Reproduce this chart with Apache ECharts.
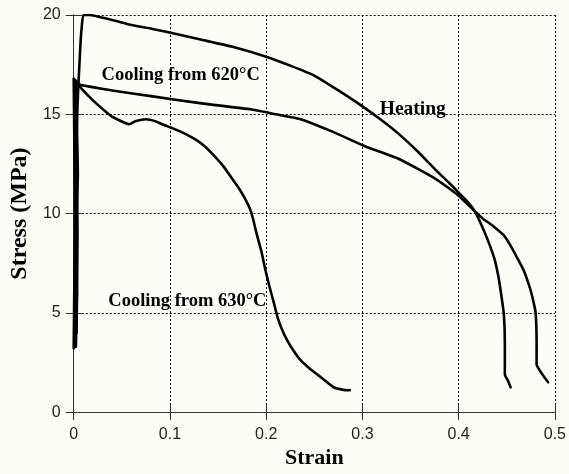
<!DOCTYPE html>
<html>
<head>
<meta charset="utf-8">
<script src="https://cdn.jsdelivr.net/npm/echarts@6/dist/echarts.min.js"></script>
<style>
  html, body { margin: 0; padding: 0; background: #fdfdf8; }
  #chart { width: 569px; height: 474px; }
</style>
</head>
<body>
<div id="chart"></div>
<script>
// Stress–strain curves: heating run and two cooling runs
const heatingStrain = [0.000, 0.001, 0.002, 0.004, 0.005, 0.007, 0.008, 0.010, 0.016, 0.040, 0.060, 0.082, 0.110, 0.133, 0.165, 0.200, 0.225, 0.250, 0.275, 0.300, 0.320, 0.338, 0.358, 0.376, 0.390, 0.400, 0.410, 0.417, 0.423, 0.430, 0.437, 0.441, 0.444, 0.447, 0.448, 0.448, 0.451, 0.454];
const heatingStress = [3.2, 8.0, 12.0, 15.5, 16.6, 18.5, 19.2, 20.0, 20.0, 19.75, 19.5, 19.3, 19.0, 18.75, 18.4, 17.9, 17.45, 16.95, 16.2, 15.4, 14.7, 14.0, 13.1, 12.2, 11.55, 11.05, 10.55, 10.1, 9.5, 8.7, 7.75, 6.9, 6.0, 4.9, 3.5, 1.9, 1.6, 1.25];

const cooling620Strain = [0.001, 0.002, 0.001, 0.000, 0.006, 0.040, 0.082, 0.133, 0.184, 0.210, 0.236, 0.270, 0.302, 0.338, 0.376, 0.400, 0.417, 0.425, 0.435, 0.447, 0.455, 0.461, 0.467, 0.471, 0.475, 0.478, 0.480, 0.481, 0.481, 0.487, 0.493];
const cooling620Stress = [3.4, 7.0, 12.0, 16.8, 16.5, 16.2, 15.9, 15.55, 15.25, 15.0, 14.75, 14.1, 13.4, 12.75, 11.75, 10.9, 10.1, 9.75, 9.4, 8.9, 8.3, 7.75, 7.2, 6.7, 6.1, 5.5, 5.0, 3.5, 2.4, 1.9, 1.5];

const cooling630Strain = [0.003, 0.004, 0.003, 0.002, 0.006, 0.020, 0.034, 0.041, 0.058, 0.064, 0.075, 0.085, 0.092, 0.110, 0.126, 0.137, 0.147, 0.156, 0.164, 0.172, 0.178, 0.183, 0.186, 0.190, 0.195, 0.199, 0.203, 0.208, 0.212, 0.217, 0.222, 0.229, 0.236, 0.245, 0.253, 0.262, 0.270, 0.280, 0.287];
const cooling630Stress = [4.0, 9.0, 13.5, 16.7, 16.4, 15.7, 15.1, 14.85, 14.5, 14.65, 14.75, 14.65, 14.5, 14.15, 13.75, 13.35, 12.85, 12.35, 11.8, 11.25, 10.75, 10.25, 9.8, 9.0, 8.1, 7.2, 6.4, 5.5, 4.75, 4.1, 3.6, 3.05, 2.6, 2.2, 1.9, 1.55, 1.25, 1.12, 1.1];

// Extra loading strokes along the stress axis (thick band near zero strain)
const loadingStrain = [0.002, 0.003, 0.002, 0.004, 0.003, 0.002];
const loadingStress = [3.3, 6.0, 9.0, 12.0, 14.5, 16.6];

// Curve annotations: text, anchor point (strain, stress) and text size
const annotationText = ['Cooling from 620°C', 'Cooling from 630°C', 'Heating'];
const annotationStrain = [0.029, 0.036, 0.318];
const annotationStress = [16.95, 5.6, 15.25];
const annotationSize = [18.5, 18.5, 19.5];

const xTicks = [0, 0.1, 0.2, 0.3, 0.4, 0.5];
const yTicks = [0, 5, 10, 15, 20];

function pairs(xs, ys) { return xs.map((x, i) => [x, ys[i]]); }

const curve = (name, xs, ys, width) => ({
  name, type: 'line', data: pairs(xs, ys), showSymbol: false, symbol: 'none',
  lineStyle: { color: '#000', width: width || 2.6, join: 'round', cap: 'round' },
  smooth: 0.15, silent: true, z: 5
});

const tickFont = { fontFamily: 'Liberation Sans', fontSize: 16, color: '#222' };
const grid = { left: 70, right: 11, top: 15, bottom: 59 };

const chart = echarts.init(document.getElementById('chart'), null, { renderer: 'canvas' });
chart.setOption({
  backgroundColor: '#fdfdf8',
  animation: false,
  grid,
  xAxis: [{
    type: 'value', min: xTicks[0], max: xTicks[xTicks.length - 1], interval: 0.1,
    name: 'Strain', nameLocation: 'middle', nameGap: 34,
    nameTextStyle: { fontFamily: 'Liberation Serif', fontWeight: 'bold', fontSize: 22, color: '#000' },
    axisLine: { show: true, lineStyle: { color: '#333', width: 1 } },
    axisTick: { show: true, inside: true, length: 8, lineStyle: { color: '#333' } },
    axisLabel: Object.assign({ margin: 14, formatter: v => (v === 0 ? '0' : String(+v.toFixed(1))) }, tickFont),
    splitLine: { show: true, lineStyle: { color: '#000', width: 1, type: [2, 2] } }
  }, {
    type: 'value', position: 'top', min: xTicks[0], max: xTicks[xTicks.length - 1], interval: 0.1,
    axisLine: { show: true, lineStyle: { color: '#333', width: 1 } },
    axisTick: { show: true, inside: true, length: 8, lineStyle: { color: '#333' } },
    axisLabel: { show: false }, splitLine: { show: false }
  }],
  yAxis: [{
    type: 'value', min: yTicks[0], max: yTicks[yTicks.length - 1], interval: 5,
    name: 'Stress (MPa)', nameLocation: 'middle', nameGap: 36,
    nameTextStyle: { fontFamily: 'Liberation Serif', fontWeight: 'bold', fontSize: 24, color: '#000' },
    axisLine: { show: true, lineStyle: { color: '#333', width: 1 } },
    axisTick: { show: true, inside: true, length: 8, lineStyle: { color: '#333' } },
    axisLabel: Object.assign({ margin: 13 }, tickFont),
    splitLine: { show: true, lineStyle: { color: '#000', width: 1, type: [2, 2] } }
  }, {
    type: 'value', position: 'right', min: yTicks[0], max: yTicks[yTicks.length - 1], interval: 5,
    axisLine: { show: true, lineStyle: { color: '#333', width: 1 } },
    axisTick: { show: true, inside: true, length: 8, lineStyle: { color: '#333' } },
    axisLabel: { show: false }, splitLine: { show: false }
  }],
  series: [
    curve('Heating', heatingStrain, heatingStress),
    curve('Cooling from 620°C', cooling620Strain, cooling620Stress),
    curve('Cooling from 630°C', cooling630Strain, cooling630Stress),
    curve('Loading', loadingStrain, loadingStress, 3.2),
    {
      type: 'scatter', symbolSize: 0, silent: true, z: 10,
      itemStyle: { opacity: 1, color: '#000' },
      data: annotationText.map((t, i) => ({
        value: [annotationStrain[i], annotationStress[i]], name: t,
        label: { fontSize: annotationSize[i] }
      })),
      label: {
        show: true, position: 'right', distance: 0,
        formatter: p => p.name, opacity: 1, textBorderWidth: 0,
        fontFamily: 'Liberation Serif', fontWeight: 'bold', color: '#000'
      }
    }
  ]
});
</script>
</body>
</html>
